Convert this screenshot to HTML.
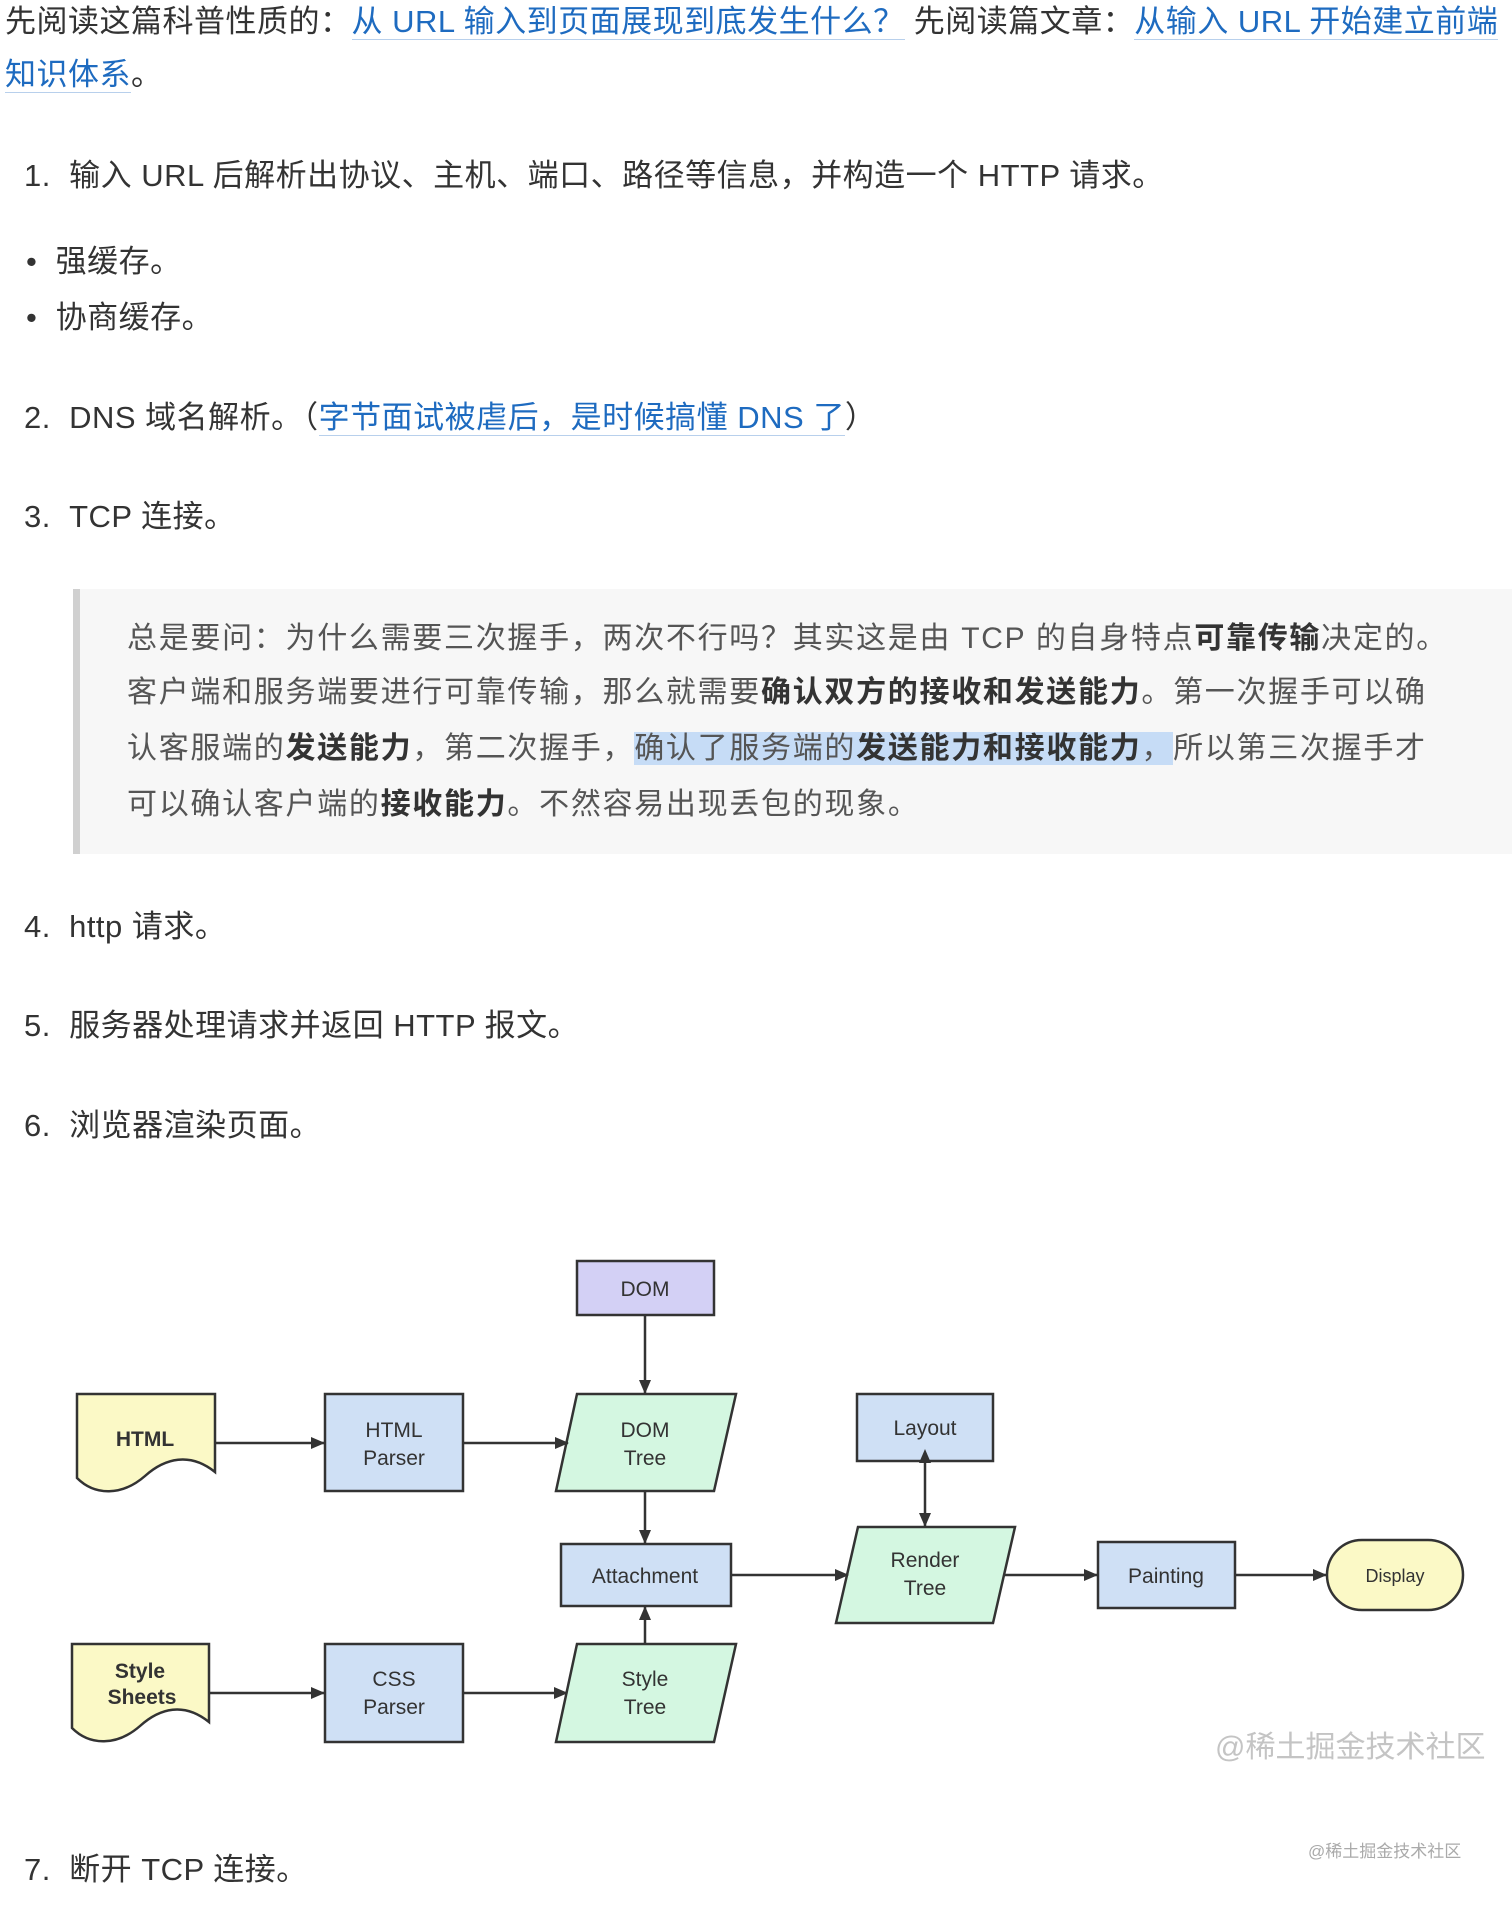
<!DOCTYPE html>
<html><head><meta charset="utf-8"><style>
body{margin:0;width:1512px;height:1905px;background:#fff;position:relative;overflow:hidden;font-family:"Liberation Sans","Noto Sans CJK SC",sans-serif;color:#333;}
.t{position:absolute;white-space:nowrap;font-size:31px;line-height:40px;letter-spacing:0.5px;}
a{color:#1e6bc0;text-decoration:none;border-bottom:1px solid #b8d0ec;}
.bq{position:absolute;left:73px;top:589px;width:1439px;height:265px;background:#f7f7f7;border-left:7px solid #d0d0d0;}
.q{position:absolute;left:127px;white-space:nowrap;font-size:30px;line-height:40px;letter-spacing:1.7px;color:#555;}
b{color:#333}
.hl{background:#c6dcf6;}
svg text{font-family:"Liberation Sans",sans-serif;fill:#333;}
</style></head><body>
<div class="t" style="left:5px;top:2px">先阅读这篇科普性质的：<a>从 URL 输入到页面展现到底发生什么？</a> 先阅读篇文章：<a>从输入 URL 开始建立前端</a></div>
<div class="t" style="left:5px;top:55px"><a>知识体系</a>。</div>
<div class="t" style="left:24px;top:156px">1.&nbsp;&nbsp;输入 URL 后解析出协议、主机、端口、路径等信息，并构造一个 HTTP 请求。</div>
<div class="t" style="left:26px;top:242px">•&nbsp;&nbsp;强缓存。</div>
<div class="t" style="left:26px;top:298px">•&nbsp;&nbsp;协商缓存。</div>
<div class="t" style="left:24px;top:398px">2.&nbsp;&nbsp;DNS 域名解析。（<a>字节面试被虐后，是时候搞懂 DNS 了</a>）</div>
<div class="t" style="left:24px;top:497px">3.&nbsp;&nbsp;TCP 连接。</div>
<div class="bq"></div>
<div class="q" style="top:619px">总是要问：为什么需要三次握手，两次不行吗？其实这是由 TCP 的自身特点<b>可靠传输</b>决定的。</div>
<div class="q" style="top:673px">客户端和服务端要进行可靠传输，那么就需要<b>确认双方的接收和发送能力</b>。第一次握手可以确</div>
<div class="q" style="top:729px">认客服端的<b>发送能力</b>，第二次握手，<span class="hl">确认了服务端的<b>发送能力和接收能力</b>，</span>所以第三次握手才</div>
<div class="q" style="top:785px">可以确认客户端的<b>接收能力</b>。不然容易出现丢包的现象。</div>
<div class="t" style="left:24px;top:907px">4.&nbsp;&nbsp;http 请求。</div>
<div class="t" style="left:24px;top:1006px">5.&nbsp;&nbsp;服务器处理请求并返回 HTTP 报文。</div>
<div class="t" style="left:24px;top:1106px">6.&nbsp;&nbsp;浏览器渲染页面。</div>
<div class="t" style="left:24px;top:1850px">7.&nbsp;&nbsp;断开 TCP 连接。</div>
<svg width="1512" height="1905" style="position:absolute;left:0;top:0">
<defs><marker id="a" markerWidth="14" markerHeight="14" refX="13" refY="7" orient="auto" markerUnits="userSpaceOnUse"><path d="M0,1 L14,7 L0,13 Z" fill="#333"/></marker>
<marker id="s" markerWidth="14" markerHeight="14" refX="1" refY="7" orient="auto-start-reverse" markerUnits="userSpaceOnUse"><path d="M0,1 L14,7 L0,13 Z" fill="#333"/></marker></defs>
<g stroke="#333" stroke-width="2.5">
<rect x="577" y="1261" width="137" height="54" fill="#d3d0f5"/>
<path d="M77,1394 H215 V1472 C190,1452 165,1458 145,1476 C122,1496 95,1496 77,1478 Z" fill="#fbf9c6"/>
<path d="M72,1644 H209 V1722 C184,1702 160,1708 140,1726 C117,1746 90,1746 72,1728 Z" fill="#fbf9c6"/>
<rect x="325" y="1394" width="138" height="97" fill="#cfe0f5"/>
<rect x="325" y="1644" width="138" height="98" fill="#cfe0f5"/>
<path d="M577,1394 H736 L714,1491 H556 Z" fill="#d4f7e1"/>
<path d="M577,1644 H736 L714,1742 H556 Z" fill="#d4f7e1"/>
<rect x="857" y="1394" width="136" height="67" fill="#cfe0f5"/>
<rect x="561" y="1544" width="170" height="62" fill="#cfe0f5"/>
<path d="M858,1527 H1015 L993,1623 H836 Z" fill="#d4f7e1"/>
<rect x="1098" y="1542" width="137" height="66" fill="#cfe0f5"/>
<rect x="1327" y="1540" width="136" height="70" rx="35" fill="#fbf9c6"/>
</g>
<g stroke="#333" stroke-width="2.5" fill="none">
<line x1="645" y1="1315" x2="645" y2="1393" marker-end="url(#a)"/>
<line x1="215" y1="1443" x2="324" y2="1443" marker-end="url(#a)"/>
<line x1="463" y1="1443" x2="568" y2="1443" marker-end="url(#a)"/>
<line x1="645" y1="1491" x2="645" y2="1543" marker-end="url(#a)"/>
<line x1="645" y1="1644" x2="645" y2="1607" marker-end="url(#a)"/>
<line x1="731" y1="1575" x2="848" y2="1575" marker-end="url(#a)"/>
<line x1="925" y1="1462" x2="925" y2="1526" marker-start="url(#s)" marker-end="url(#a)"/>
<line x1="1004" y1="1575" x2="1097" y2="1575" marker-end="url(#a)"/>
<line x1="1235" y1="1575" x2="1326" y2="1575" marker-end="url(#a)"/>
<line x1="209" y1="1693" x2="324" y2="1693" marker-end="url(#a)"/>
<line x1="463" y1="1693" x2="567" y2="1693" marker-end="url(#a)"/>
</g>
<g font-size="21" text-anchor="middle">
<text x="645" y="1296">DOM</text>
<text x="145" y="1446" font-weight="bold">HTML</text>
<text x="394" y="1437">HTML</text><text x="394" y="1465">Parser</text>
<text x="645" y="1437">DOM</text><text x="645" y="1465">Tree</text>
<text x="925" y="1435">Layout</text>
<text x="645" y="1583">Attachment</text>
<text x="925" y="1567">Render</text><text x="925" y="1595">Tree</text>
<text x="1166" y="1583">Painting</text>
<text x="1395" y="1582" font-size="18">Display</text>
<text x="140" y="1678" font-weight="bold">Style</text><text x="142" y="1704" font-weight="bold">Sheets</text>
<text x="394" y="1686">CSS</text><text x="394" y="1714">Parser</text>
<text x="645" y="1686">Style</text><text x="645" y="1714">Tree</text>
</g>
<text x="1215" y="1757" font-size="30" style="fill:#c4c4c4;font-family:'Liberation Sans','Noto Sans CJK SC',sans-serif">@稀土掘金技术社区</text>
<text x="1308" y="1857" font-size="17" style="fill:#aaa;font-family:'Liberation Sans','Noto Sans CJK SC',sans-serif">@稀土掘金技术社区</text>
</svg>
</body></html>
